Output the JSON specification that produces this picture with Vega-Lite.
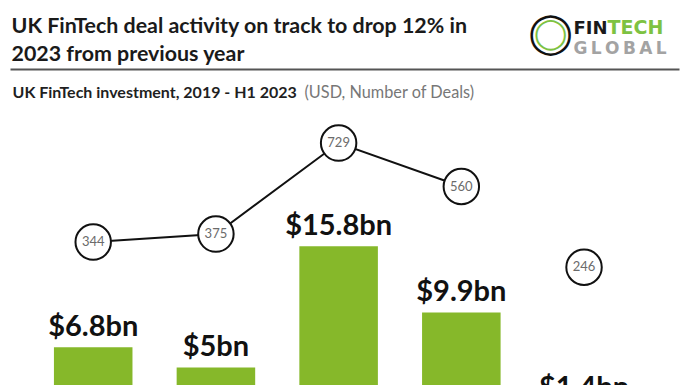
{
  "$schema": "https://vega.github.io/schema/vega-lite/v6.json",
  "width": 669,
  "height": 316,
  "autosize": {"type": "none"},
  "padding": {"left": 10, "top": 69, "right": 17, "bottom": 0},
  "background": "white",
  "config": {"view": {"stroke": null}, "font": "Lato"},
  "data": {
    "values": [
      {"period": "2019", "investment": 6.8, "label": "$6.8bn", "deals": 344},
      {"period": "2020", "investment": 5.0, "label": "$5bn", "deals": 375},
      {"period": "2021", "investment": 15.8, "label": "$15.8bn", "deals": 729},
      {"period": "2022", "investment": 9.9, "label": "$9.9bn", "deals": 560},
      {"period": "H1 2023", "investment": 1.4, "label": "$1.4bn", "deals": 246}
    ]
  },
  "layer": [
    {
      "mark": {"type": "bar", "color": "#86b82a", "clip": true},
      "encoding": {
        "x": {
          "field": "period", "type": "nominal", "sort": null,
          "scale": {"paddingInner": 0.36, "paddingOuter": 0.406, "align": 0.441},
          "axis": {
            "orient": "top", "labels": false, "ticks": false, "grid": false,
            "domain": true, "domainColor": "#555555", "domainWidth": 2,
            "title": "UK FinTech investment, 2019 - H1 2023",
            "titleX": 2, "titleY": 28, "titleAlign": "left", "titleBaseline": "alphabetic",
            "titleFont": "Lato", "titleFontSize": 16, "titleFontWeight": "bold", "titleColor": "#1f1f1f"
          }
        },
        "y": {
          "field": "investment", "type": "quantitative",
          "scale": {"domain": [3.44, 31.58], "zero": false, "nice": false},
          "axis": {
            "orient": "left", "labels": false, "ticks": false, "grid": false, "domain": false,
            "title": "◯", "titleX": 540, "titleY": -36, "titleAngle": 0,
            "titleAlign": "center", "titleBaseline": "middle",
            "titleFont": "DejaVu Sans", "titleFontSize": 40, "titleFontWeight": "bold", "titleColor": "#111111"
          }
        }
      }
    },
    {
      "mark": {"type": "text", "font": "Lato", "fontWeight": "bold", "fontSize": 29, "color": "#111111", "baseline": "alphabetic", "align": "center", "dy": -11},
      "encoding": {
        "x": {
          "field": "period", "type": "nominal", "sort": null,
          "scale": {"paddingInner": 0.36, "paddingOuter": 0.406, "align": 0.441},
          "axis": {
            "orient": "top", "labels": false, "ticks": false, "grid": false, "domain": false,
            "title": "(USD, Number of Deals)",
            "titleX": 294, "titleY": 28, "titleAlign": "left", "titleBaseline": "alphabetic",
            "titleFont": "Lato", "titleFontSize": 16.3, "titleFontWeight": "normal", "titleColor": "#777777"
          }
        },
        "y": {
          "field": "investment", "type": "quantitative",
          "scale": {"domain": [3.44, 31.58], "zero": false, "nice": false},
          "axis": {
            "orient": "left", "labels": false, "ticks": false, "grid": false, "domain": false,
            "title": "◯", "titleX": 540, "titleY": -36, "titleAngle": 0,
            "titleAlign": "center", "titleBaseline": "middle",
            "titleFont": "DejaVu Sans", "titleFontSize": 30, "titleFontWeight": "bold", "titleColor": "#7dc242"
          }
        },
        "text": {"field": "label", "type": "nominal"}
      }
    },
    {
      "transform": [{"filter": "datum.period !== 'H1 2023'"}],
      "mark": {"type": "line", "color": "#111111", "strokeWidth": 2},
      "encoding": {
        "x": {
          "field": "period", "type": "nominal", "sort": null,
          "scale": {"paddingInner": 0.36, "paddingOuter": 0.406, "align": 0.441},
          "axis": {
            "orient": "top", "labels": false, "ticks": false, "grid": false, "domain": false,
            "title": "FIN",
            "titleX": 563, "titleY": -36, "titleAlign": "left", "titleBaseline": "alphabetic",
            "titleFont": "DejaVu Sans", "titleFontSize": 18, "titleFontWeight": "bold", "titleColor": "#1a1a1a"
          }
        },
        "y": {
          "field": "deals", "type": "quantitative",
          "scale": {"domain": [-212, 1017], "zero": false, "nice": false},
          "axis": {
            "orient": "left", "labels": false, "ticks": false, "grid": false, "domain": false,
            "title": ["UK FinTech deal activity on track to drop 12% in", "2023 from previous year"],
            "titleX": 1, "titleY": -37, "titleAngle": 0, "titleAlign": "left", "titleBaseline": "alphabetic",
            "titleLineHeight": 28,
            "titleFont": "Lato", "titleFontSize": 21.4, "titleFontWeight": "bold", "titleColor": "#1a1a1a"
          }
        }
      }
    },
    {
      "mark": {"type": "point", "shape": "circle", "filled": true, "fill": "white", "stroke": "#111111", "strokeWidth": 2, "size": 1257, "opacity": 1},
      "encoding": {
        "x": {
          "field": "period", "type": "nominal", "sort": null,
          "scale": {"paddingInner": 0.36, "paddingOuter": 0.406, "align": 0.441},
          "axis": {
            "orient": "top", "labels": false, "ticks": false, "grid": false, "domain": false,
            "title": "TECH",
            "titleX": 597, "titleY": -36, "titleAlign": "left", "titleBaseline": "alphabetic",
            "titleFont": "DejaVu Sans", "titleFontSize": 19, "titleFontWeight": "bold", "titleColor": "#7dc242"
          }
        },
        "y": {
          "field": "deals", "type": "quantitative",
          "scale": {"domain": [-212, 1017], "zero": false, "nice": false},
          "axis": null
        }
      }
    },
    {
      "mark": {"type": "text", "font": "Lato", "fontSize": 13, "color": "#6b6b6b", "baseline": "middle", "align": "center"},
      "encoding": {
        "x": {
          "field": "period", "type": "nominal", "sort": null,
          "scale": {"paddingInner": 0.36, "paddingOuter": 0.406, "align": 0.441},
          "axis": {
            "orient": "top", "labels": false, "ticks": false, "grid": false, "domain": false,
            "title": "G\u2009L\u2009O\u2009B\u2009A\u2009L",
            "titleX": 563, "titleY": -16, "titleAlign": "left", "titleBaseline": "alphabetic",
            "titleFont": "DejaVu Sans", "titleFontSize": 17, "titleFontWeight": "bold", "titleColor": "#a3a3a3"
          }
        },
        "y": {
          "field": "deals", "type": "quantitative",
          "scale": {"domain": [-212, 1017], "zero": false, "nice": false},
          "axis": null
        },
        "text": {"field": "deals", "type": "quantitative"}
      }
    }
  ],
  "resolve": {
    "scale": {"y": "independent"},
    "axis": {"x": "independent", "y": "independent"}
  }
}
